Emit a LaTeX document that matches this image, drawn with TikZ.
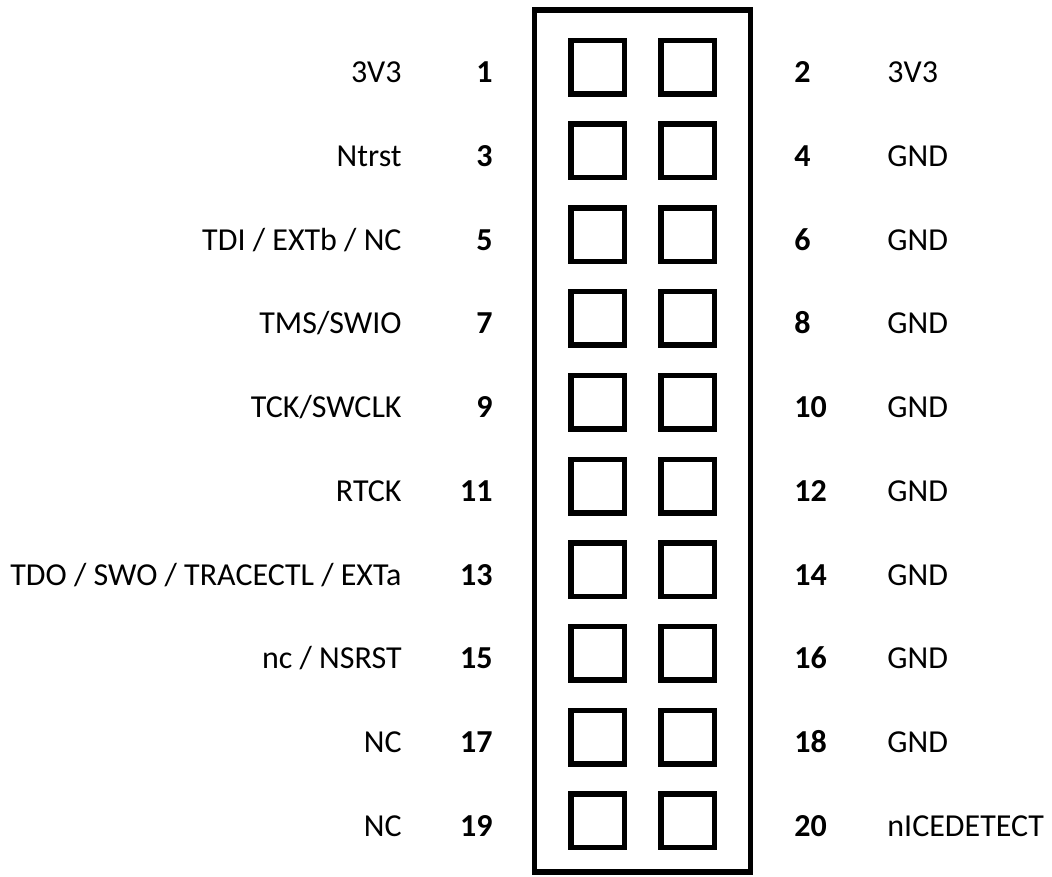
\documentclass[tikz,border=0pt]{standalone}
\usepackage{fontspec}
\setmainfont{Carlito}
\usetikzlibrary{positioning}

\begin{document}
\begin{tikzpicture}[x=0.5pt,y=-0.5pt,
    pin/.style={draw,line width=2.75pt,minimum size=26.75pt,inner sep=0pt},
    num/.style={font=\bfseries\fontsize{16}{19}\selectfont,inner sep=0pt},
    sig/.style={font=\fontsize{16}{19}\selectfont,inner sep=0pt}]

\useasboundingbox (0,0) rectangle (1052,876);

% header body
\node[draw, line width=2.75pt, minimum width=108pt, minimum height=431pt, inner sep=0pt] (header) at (642.5,441) {};

% pins
\node[pin] (p1) at (597.5,67.5) {};
\node[pin] (p2) at (687.5,67.5) {};
\node[pin] (p3) at (597.5,151) {};
\node[pin] (p4) at (687.5,151) {};
\node[pin] (p5) at (597.5,235) {};
\node[pin] (p6) at (687.5,235) {};
\node[pin] (p7) at (597.5,318.5) {};
\node[pin] (p8) at (687.5,318.5) {};
\node[pin] (p9) at (597.5,402) {};
\node[pin] (p10) at (687.5,402) {};
\node[pin] (p11) at (597.5,486) {};
\node[pin] (p12) at (687.5,486) {};
\node[pin] (p13) at (597.5,569.5) {};
\node[pin] (p14) at (687.5,569.5) {};
\node[pin] (p15) at (597.5,653) {};
\node[pin] (p16) at (687.5,653) {};
\node[pin] (p17) at (597.5,737) {};
\node[pin] (p18) at (687.5,737) {};
\node[pin] (p19) at (597.5,820.5) {};
\node[pin] (p20) at (687.5,820.5) {};

% pin numbers
\node[num, anchor=base east] (n1) at (493,83) {1};
\node[num, anchor=base west] (n2) at (794,83) {2};
\node[num, anchor=base east] (n3) at (493,166.5) {3};
\node[num, anchor=base west] (n4) at (794,166.5) {4};
\node[num, anchor=base east] (n5) at (493,250.5) {5};
\node[num, anchor=base west] (n6) at (794,250.5) {6};
\node[num, anchor=base east] (n7) at (493,334) {7};
\node[num, anchor=base west] (n8) at (794,334) {8};
\node[num, anchor=base east] (n9) at (493,417.5) {9};
\node[num, anchor=base west] (n10) at (794,417.5) {10};
\node[num, anchor=base east] (n11) at (493,501.5) {11};
\node[num, anchor=base west] (n12) at (794,501.5) {12};
\node[num, anchor=base east] (n13) at (493,585) {13};
\node[num, anchor=base west] (n14) at (794,585) {14};
\node[num, anchor=base east] (n15) at (493,668.5) {15};
\node[num, anchor=base west] (n16) at (794,668.5) {16};
\node[num, anchor=base east] (n17) at (493,752.5) {17};
\node[num, anchor=base west] (n18) at (794,752.5) {18};
\node[num, anchor=base east] (n19) at (493,836) {19};
\node[num, anchor=base west] (n20) at (794,836) {20};

% signal names
\node[sig, anchor=base east] (s1) at (402,83) {3V3};
\node[sig, anchor=base west] (s2) at (887,83) {3V3};
\node[sig, anchor=base east] (s3) at (402,166.5) {Ntrst};
\node[sig, anchor=base west] (s4) at (887,166.5) {GND};
\node[sig, anchor=base east] (s5) at (402,250.5) {TDI / EXTb / NC};
\node[sig, anchor=base west] (s6) at (887,250.5) {GND};
\node[sig, anchor=base east] (s7) at (402,334) {TMS/SWIO};
\node[sig, anchor=base west] (s8) at (887,334) {GND};
\node[sig, anchor=base east] (s9) at (402,417.5) {TCK/SWCLK};
\node[sig, anchor=base west] (s10) at (887,417.5) {GND};
\node[sig, anchor=base east] (s11) at (402,501.5) {RTCK};
\node[sig, anchor=base west] (s12) at (887,501.5) {GND};
\node[sig, anchor=base east] (s13) at (402,585) {TDO / SWO / TRACECTL / EXTa};
\node[sig, anchor=base west] (s14) at (887,585) {GND};
\node[sig, anchor=base east] (s15) at (402,668.5) {nc / NSRST};
\node[sig, anchor=base west] (s16) at (887,668.5) {GND};
\node[sig, anchor=base east] (s17) at (402,752.5) {NC};
\node[sig, anchor=base west] (s18) at (887,752.5) {GND};
\node[sig, anchor=base east] (s19) at (402,836) {NC};
\node[sig, anchor=base west] (s20) at (887,836) {nICEDETECT};

\end{tikzpicture}
\end{document}
